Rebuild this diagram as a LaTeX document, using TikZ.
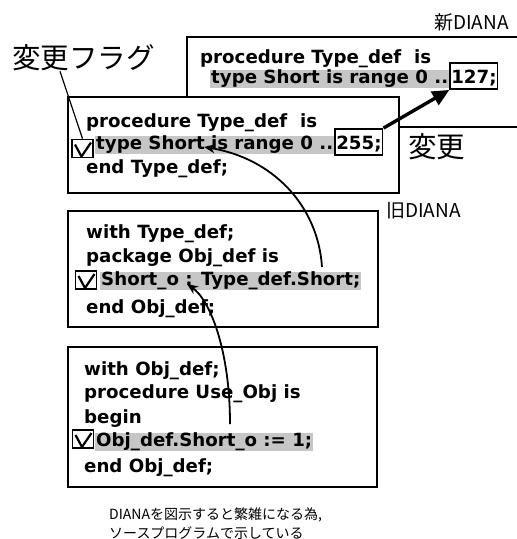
\documentclass[tikz,border=0pt]{standalone}
\usepackage{fontspec}
\usepackage{tikz}
\usetikzlibrary{arrows.meta,positioning,calc}
\newfontfamily\codefont{DejaVu Sans}
\newfontfamily\jpfont{Noto Sans CJK JP}

\begin{document}
\begin{tikzpicture}[x=1pt, y=-1pt,
  panel/.style={draw, line width=2.2pt, fill=white},
  code/.style={anchor=base west, inner sep=0pt, font=\codefont\bfseries\fontsize{18.2}{20}\selectfont},
  hilite/.style={code, fill=gray!45, inner xsep=1pt, inner ysep=1pt, text height=12.5pt, text depth=4pt},
  numbox/.style={code, draw, line width=1.8pt, inner xsep=1pt, inner ysep=1pt, text height=19pt, text depth=5pt},
  flag/.style={draw, line width=1.8pt, minimum width=21pt, minimum height=18pt, inner sep=0pt,
    path picture={\draw[line width=2.2pt] ([shift={(3pt,-5pt)}]path picture bounding box.north west)
      -- ([shift={(-1pt,1pt)}]path picture bounding box.south)
      -- ([shift={(-2pt,-3pt)}]path picture bounding box.north east);}},
  jp/.style={anchor=west, inner sep=0pt, font=\jpfont\fontsize{28.5}{30}\selectfont},
  tag/.style={inner sep=0pt, font=\jpfont\fontsize{19}{21}\selectfont},
  note/.style={anchor=west, inner sep=0pt, font=\jpfont\fontsize{14}{15}\selectfont},
  bigarrow/.style={-{Triangle[length=17pt,width=15pt]}, line width=3.4pt},
  arrow/.style={-{Stealth[length=11pt,width=9pt]}, line width=1.8pt}
]
\useasboundingbox (0,0) rectangle (517,539);

% new DIANA
\node[tag, anchor=east] (newlabel) at (509,22) {新DIANA};
\draw[line width=2.2pt] (517,37) -- (187,37) -- (187,127) -- (517,127);
\node[code] (newproc) at (200,63) {procedure Type\_def~~is};
\node[hilite] (newtype) at (210,83) {type Short is range 0 ..\ };
\node[numbox] (new127) at (newtype.base east) {127;};

% old DIANA
\node[jp] (flaglabel) at (12,58) {変更フラグ};
\draw[panel] (68,97) rectangle (399,193);
\node[code] (oldproc) at (86,127) {procedure Type\_def~~is};
\node[flag] (flag1) at (82.5,148.5) {};
\node[hilite] (oldtype) at (95,149) {type Short is range 0 ..\ };
\node[numbox] (old255) at (oldtype.base east) {255;};
\node[code] (oldend) at (86,173) {end Type\_def;};
\node[jp] (change) at (408,147) {変更};

\node[tag, anchor=west] (oldlabel) at (386,211) {旧DIANA};
\draw[panel] (68,211) rectangle (378,327);
\node[code] (objwith) at (86,238) {with Type\_def;};
\node[code] (objpkg) at (86,262) {package Obj\_def is};
\node[flag] (flag2) at (86,280) {};
\node[hilite] (objshort) at (100,285) {Short\_o : Type\_def.Short;};
\node[code] (objend) at (86,313) {end Obj\_def;};

\draw[panel] (68,347) rectangle (377,487);
\node[code] (usewith) at (84,375) {with Obj\_def;};
\node[code] (useproc) at (84,398) {procedure Use\_Obj is};
\node[code] (usebegin) at (84,423) {begin};
\node[flag] (flag3) at (83,439) {};
\node[hilite] (useshort) at (95,446) {Obj\_def.Short\_o := 1;};
\node[code] (useend) at (84,472) {end Obj\_def;};

\node[note] (note1) at (109,515) {DIANAを図示すると繁雑になる為,};
\node[note] (note2) at (109,533) {ソースプログラムで示している};

% references
\coordinate (srcA) at (322,267);
\coordinate (tipA) at (204,147);
\coordinate (srcB) at (230,424);
\coordinate (tipB) at (187,284);
\draw[line width=1.2pt] ([xshift=48pt]flaglabel.south west) -- (flag1.north);
\draw[bigarrow] (old255.north east) -- (new127.south west);
\draw[arrow] (srcA) .. controls (318,205) and (272,158) .. (tipA);
\draw[arrow] (srcB) .. controls (230,350) and (210,300) .. (tipB);
\end{tikzpicture}
\end{document}
